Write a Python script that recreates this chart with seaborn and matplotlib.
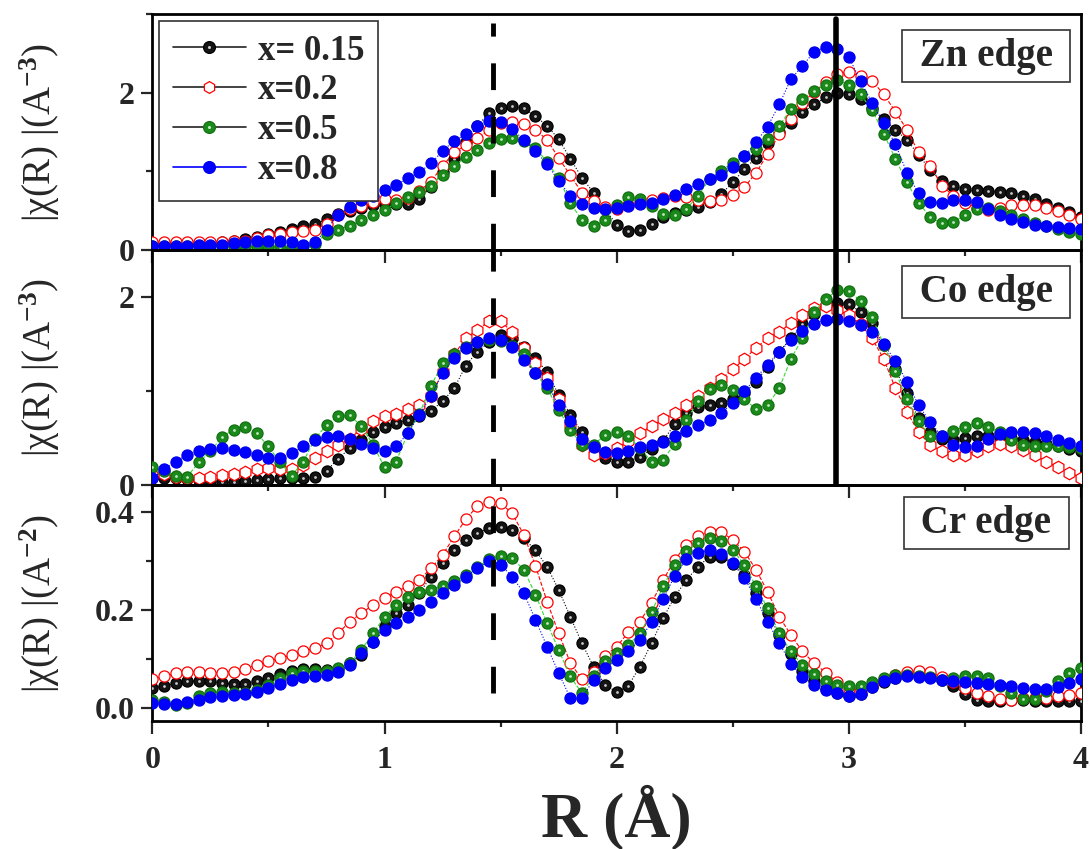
import numpy as np
import matplotlib
matplotlib.use("Agg")
import matplotlib.pyplot as plt
import seaborn as sns
from matplotlib.lines import Line2D
from matplotlib.ticker import MultipleLocator, FormatStrFormatter
from matplotlib.legend_handler import HandlerTuple

# R grid (Angstrom), 0.05 step
r_grid = np.round(np.arange(0, 81) * 0.05, 2)

labels = ["x= 0.15", "x=0.2", "x=0.5", "x=0.8"]

# ---------------- Zn edge ----------------
zn_x015 = [0.08,0.08,0.08,0.08,0.09,0.09,0.10,0.12,0.14,0.17,
           0.20,0.23,0.27,0.30,0.33,0.39,0.46,0.50,0.54,0.57,
           0.59,0.59,0.59,0.65,0.80,0.99,1.16,1.37,1.58,1.74,
           1.81,1.83,1.80,1.70,1.58,1.41,1.16,0.92,0.73,0.52,
           0.32,0.24,0.26,0.33,0.42,0.47,0.51,0.55,0.61,0.71,
           0.86,1.03,1.17,1.36,1.50,1.62,1.75,1.85,1.94,1.99,
           1.98,1.92,1.80,1.67,1.53,1.40,1.21,1.02,0.88,0.81,
           0.78,0.76,0.75,0.74,0.73,0.69,0.65,0.59,0.53,0.48,0.42]
zn_x02 = [0.10,0.10,0.10,0.10,0.10,0.10,0.10,0.11,0.12,0.15,
          0.19,0.21,0.23,0.24,0.25,0.33,0.44,0.52,0.56,0.61,
          0.65,0.63,0.66,0.75,0.87,1.07,1.24,1.33,1.43,1.52,
          1.62,1.63,1.60,1.53,1.40,1.17,0.95,0.73,0.62,0.55,
          0.52,0.57,0.61,0.63,0.66,0.69,0.67,0.64,0.62,0.64,
          0.70,0.80,0.98,1.22,1.47,1.66,1.87,2.01,2.13,2.24,
          2.26,2.21,2.15,1.98,1.76,1.53,1.24,1.07,0.82,0.69,
          0.60,0.54,0.51,0.54,0.57,0.57,0.57,0.53,0.50,0.45,0.40]
zn_x05 = [0.05,0.05,0.05,0.05,0.05,0.05,0.05,0.05,0.05,0.05,
          0.05,0.04,0.04,0.05,0.08,0.21,0.26,0.31,0.38,0.44,
          0.51,0.60,0.67,0.74,0.82,0.96,1.07,1.18,1.27,1.36,
          1.41,1.43,1.39,1.30,1.12,0.91,0.60,0.38,0.31,0.38,
          0.57,0.67,0.65,0.56,0.46,0.44,0.52,0.69,0.90,1.01,
          1.11,1.20,1.28,1.41,1.58,1.79,1.92,2.02,2.10,2.16,
          2.10,1.98,1.78,1.48,1.16,0.86,0.60,0.42,0.34,0.36,
          0.44,0.52,0.53,0.50,0.44,0.39,0.34,0.30,0.27,0.23,0.20]
zn_x08 = [0.05,0.05,0.05,0.05,0.06,0.06,0.07,0.09,0.10,0.11,
          0.12,0.11,0.10,0.07,0.10,0.26,0.45,0.55,0.63,0.69,
          0.76,0.83,0.91,0.99,1.10,1.26,1.39,1.47,1.58,1.64,
          1.63,1.54,1.40,1.26,1.09,0.88,0.69,0.58,0.53,0.52,
          0.53,0.56,0.58,0.60,0.65,0.70,0.78,0.84,0.90,0.96,
          1.05,1.19,1.37,1.57,1.85,2.17,2.34,2.52,2.58,2.56,
          2.45,2.15,1.87,1.61,1.35,0.98,0.72,0.61,0.60,0.63,
          0.64,0.61,0.52,0.45,0.40,0.35,0.32,0.30,0.29,0.28,0.27]

# ---------------- Co edge ----------------
co_x015 = [0.07,0.07,0.07,0.06,0.05,0.04,0.03,0.03,0.04,0.05,
           0.06,0.07,0.07,0.07,0.09,0.15,0.28,0.39,0.48,0.56,
           0.62,0.66,0.69,0.73,0.79,0.89,1.03,1.27,1.42,1.52,
           1.60,1.56,1.47,1.35,1.20,0.96,0.75,0.56,0.41,0.29,
           0.25,0.25,0.30,0.38,0.47,0.65,0.77,0.83,0.85,0.87,
           0.91,0.98,1.10,1.26,1.42,1.56,1.71,1.82,1.91,1.94,
           1.93,1.84,1.72,1.49,1.23,0.98,0.71,0.56,0.49,0.48,
           0.50,0.52,0.52,0.51,0.50,0.48,0.46,0.44,0.41,0.38,0.36]
co_x02 = [0.11,0.12,0.09,0.07,0.07,0.09,0.11,0.12,0.14,0.17,
          0.18,0.17,0.17,0.21,0.29,0.36,0.43,0.49,0.60,0.68,
          0.73,0.76,0.81,0.85,0.95,1.20,1.39,1.56,1.65,1.74,
          1.74,1.63,1.46,1.30,1.14,0.92,0.64,0.43,0.32,0.34,
          0.39,0.47,0.55,0.63,0.70,0.77,0.85,0.95,1.03,1.13,
          1.23,1.34,1.46,1.56,1.63,1.72,1.81,1.88,1.90,1.86,
          1.81,1.71,1.56,1.34,1.03,0.78,0.56,0.43,0.36,0.32,
          0.32,0.36,0.42,0.44,0.42,0.37,0.32,0.25,0.19,0.13,0.08]
co_x05 = [0.19,0.15,0.10,0.09,0.24,0.36,0.51,0.59,0.62,0.55,
          0.41,0.24,0.10,0.25,0.49,0.64,0.73,0.74,0.63,0.43,
          0.19,0.25,0.55,0.76,1.05,1.30,1.39,1.47,1.52,1.54,
          1.53,1.48,1.39,1.19,1.03,0.80,0.59,0.43,0.43,0.53,
          0.56,0.52,0.39,0.25,0.27,0.44,0.69,0.89,1.02,1.06,
          1.01,0.91,0.81,0.85,1.03,1.34,1.56,1.84,1.98,2.07,
          2.06,1.96,1.79,1.49,1.21,0.91,0.68,0.52,0.52,0.58,
          0.62,0.66,0.62,0.56,0.48,0.43,0.41,0.41,0.41,0.40,0.39]
co_x08 = [0.07,0.17,0.25,0.32,0.36,0.38,0.39,0.37,0.35,0.32,
          0.29,0.29,0.34,0.41,0.48,0.51,0.52,0.49,0.44,0.39,
          0.36,0.41,0.55,0.75,0.95,1.19,1.35,1.46,1.52,1.56,
          1.54,1.47,1.33,1.19,1.07,0.85,0.68,0.49,0.40,0.35,
          0.34,0.36,0.40,0.43,0.46,0.52,0.58,0.64,0.69,0.77,
          0.87,1.00,1.14,1.28,1.42,1.54,1.64,1.71,1.76,1.77,
          1.74,1.70,1.63,1.50,1.32,1.10,0.85,0.67,0.52,0.43,
          0.40,0.42,0.49,0.54,0.56,0.56,0.55,0.52,0.48,0.45,0.42]

# ---------------- Cr edge ----------------
cr_x015 = [0.040,0.045,0.050,0.054,0.055,0.054,0.050,0.049,0.049,0.054,
           0.060,0.069,0.076,0.080,0.080,0.078,0.079,0.091,0.108,0.135,
           0.166,0.193,0.210,0.234,0.268,0.295,0.322,0.343,0.356,0.367,
           0.370,0.363,0.346,0.322,0.288,0.241,0.186,0.132,0.084,0.047,
           0.032,0.045,0.084,0.132,0.183,0.227,0.261,0.288,0.309,0.307,
           0.294,0.271,0.234,0.193,0.149,0.110,0.076,0.054,0.039,0.030,
           0.023,0.028,0.043,0.053,0.061,0.066,0.066,0.063,0.057,0.045,
           0.028,0.016,0.013,0.014,0.016,0.016,0.014,0.013,0.013,0.013,0.013]
cr_x02 = [0.059,0.064,0.070,0.073,0.074,0.072,0.072,0.074,0.080,0.088,
          0.095,0.101,0.108,0.115,0.122,0.132,0.152,0.176,0.193,0.210,
          0.224,0.237,0.248,0.261,0.285,0.312,0.350,0.385,0.412,0.421,
          0.418,0.397,0.353,0.290,0.217,0.152,0.092,0.058,0.074,0.106,
          0.125,0.154,0.176,0.214,0.261,0.302,0.333,0.350,0.360,0.359,
          0.343,0.319,0.282,0.237,0.186,0.149,0.115,0.091,0.072,0.052,
          0.038,0.037,0.046,0.058,0.066,0.073,0.075,0.073,0.063,0.052,
          0.040,0.030,0.023,0.018,0.016,0.019,0.020,0.020,0.023,0.027,0.030]
cr_x05 = [0.016,0.011,0.005,0.010,0.023,0.031,0.033,0.030,0.031,0.037,
          0.047,0.061,0.071,0.076,0.076,0.076,0.081,0.091,0.118,0.152,
          0.186,0.210,0.227,0.237,0.241,0.248,0.258,0.272,0.288,0.303,
          0.310,0.305,0.282,0.231,0.173,0.118,0.064,0.030,0.064,0.095,
          0.112,0.128,0.152,0.195,0.248,0.292,0.320,0.336,0.346,0.341,
          0.322,0.292,0.248,0.203,0.153,0.115,0.087,0.068,0.054,0.047,
          0.044,0.045,0.053,0.061,0.067,0.067,0.065,0.062,0.057,0.060,
          0.065,0.065,0.060,0.045,0.030,0.017,0.018,0.035,0.055,0.072,0.082]
cr_x08 = [0.010,0.008,0.007,0.011,0.016,0.022,0.025,0.027,0.028,0.033,
          0.040,0.049,0.057,0.063,0.064,0.067,0.074,0.088,0.112,0.135,
          0.159,0.173,0.186,0.200,0.217,0.234,0.251,0.268,0.285,0.299,
          0.292,0.268,0.234,0.180,0.125,0.071,0.020,0.020,0.057,0.081,
          0.098,0.115,0.139,0.175,0.222,0.270,0.303,0.316,0.322,0.314,
          0.295,0.265,0.222,0.176,0.132,0.090,0.063,0.047,0.037,0.030,
          0.025,0.028,0.042,0.054,0.061,0.064,0.063,0.060,0.057,0.055,
          0.052,0.050,0.048,0.046,0.044,0.040,0.038,0.038,0.043,0.050,0.058]

panel_names = ["Zn edge", "Co edge", "Cr edge"]
panel_data = [[zn_x015, zn_x02, zn_x05, zn_x08],
              [co_x015, co_x02, co_x05, co_x08],
              [cr_x015, cr_x02, cr_x05, cr_x08]]

styles = [
    dict(line="black", ls=":", mfc="#141414", mec="#000000", hl="#c8c8c8"),
    dict(line="#ff0000", ls="--", mfc="white", mec="#ff0000", hl=None),
    dict(line="#33dd33", ls="--", mfc="#1a8a1a", mec="#137013", hl="#c6e8c6"),
    dict(line="#0000ff", ls=":", mfc="#0000ff", mec="#0000f0", hl=None),
]

sns.set_style("ticks")
plt.rcParams["font.family"] = ["Liberation Serif", "DejaVu Serif"]
plt.rcParams["font.weight"] = "bold"
plt.rcParams["mathtext.fontset"] = "custom"
plt.rcParams["mathtext.rm"] = "Liberation Serif"
plt.rcParams["mathtext.it"] = "Liberation Serif:italic"
plt.rcParams["mathtext.bf"] = "Liberation Serif:bold"

fig = plt.figure(figsize=(10.9, 8.49), dpi=100)
fig.patch.set_facecolor("white")
L, W = 0.1398, 0.852
axes = [fig.add_axes([L, 0.7055, W, 0.2780]),
        fig.add_axes([L, 0.4287, W, 0.2768]),
        fig.add_axes([L, 0.1508, W, 0.2779])]

ylims = [(0, 3.0), (0, 2.5), (-0.027, 0.455)]
ymaj = [2, 2, 0.2]
ymin = [1, 1, 0.1]
ylabels = [r"|χ(R) |(A$^{-3}$)", r"|χ(R) |(A$^{-3}$)", r"|χ(R) |(A$^{-2}$)"]
box_y = [0.822, 0.821, 0.839]

for p, ax in enumerate(axes):
    ax.set_facecolor("none")
    for i, (vals, st) in enumerate(zip(panel_data[p], styles)):
        is_hex = (p == 1 and st["mfc"] == "white")
        sns.lineplot(x=r_grid, y=vals, ax=ax, color=st["line"], linestyle=st["ls"],
                     linewidth=0.8, marker="h" if is_hex else "o",
                     markersize=9.0 if is_hex else 8.0,
                     markerfacecolor=st["mfc"], markeredgecolor=st["mec"],
                     markeredgewidth=0.9, estimator=None, errorbar=None,
                     legend=False, sort=False, zorder=3 + 2 * i)
        if st["hl"] is not None:
            sns.scatterplot(x=r_grid, y=vals, ax=ax, s=4, color=st["hl"],
                            linewidth=0, legend=False, zorder=4 + 2 * i)
    ax.set_xlim(0, 4)
    ax.set_ylim(*ylims[p])
    ax.xaxis.set_major_locator(MultipleLocator(1))
    ax.xaxis.set_minor_locator(MultipleLocator(0.5))
    ax.yaxis.set_major_locator(MultipleLocator(ymaj[p]))
    ax.yaxis.set_minor_locator(MultipleLocator(ymin[p]))
    if p == 2:
        ax.yaxis.set_major_formatter(FormatStrFormatter("%.1f"))
    ax.tick_params(axis="x", which="both", bottom=True, top=False, direction="out",
                   labelbottom=(p == 2), labelsize=23, pad=9)
    ax.tick_params(axis="x", which="major", length=9, width=1.6)
    ax.tick_params(axis="x", which="minor", length=4.5, width=1.6)
    ax.tick_params(axis="y", which="both", left=True, right=False, direction="out",
                   labelsize=23, pad=5)
    ax.tick_params(axis="y", which="major", length=8, width=1.6)
    ax.tick_params(axis="y", which="minor", length=4.5, width=1.6)
    for s in ax.spines.values():
        s.set_linewidth(2.0)
        s.set_color("black")
        s.set_visible(True)
    ax.set_ylabel(ylabels[p], fontsize=28, fontweight="normal")
    ax.yaxis.set_label_coords(-0.097, 0.5)
    ax.text(0.898, box_y[p], " " + panel_names[p] + " ", transform=ax.transAxes,
            ha="center", va="center", fontsize=28, fontweight="bold", zorder=30,
            bbox=dict(boxstyle="square,pad=0.2", fc="white", ec="#333333", lw=1.2))

# reference lines
axes[0].axvline(1.465, ymin=0, ymax=0.96, color="black", lw=3.5, ls=(0, (5.5, 5.5)), zorder=20)
axes[1].axvline(1.465, color="black", lw=3.5, ls=(0, (5.5, 5.5)), zorder=20)
axes[2].axvline(1.465, ymin=0.12, ymax=1, color="black", lw=3.5, ls=(0, (5.5, 5.5)), zorder=20)
axes[0].axvline(2.944, ymin=0, ymax=0.98, color="black", lw=4, zorder=20)
axes[1].axvline(2.944, color="black", lw=4, zorder=20)

axes[2].set_xlabel("R (Å)", fontsize=46, fontweight="bold")
axes[2].xaxis.set_label_coords(0.5, -0.27)

# legend
handles = []
for st in styles:
    lc = "#0000ff" if st["line"] == "#0000ff" else "#222222"
    mk = "h" if st["mfc"] == "white" else "o"
    main = Line2D([], [], color=lc, lw=1.2, marker=mk, markersize=8.5,
                  markerfacecolor=st["mfc"], markeredgecolor=st["mec"], markeredgewidth=0.9)
    if st["hl"] is not None:
        hl = Line2D([], [], ls="none", marker="o", markersize=2.2,
                    markerfacecolor=st["hl"], markeredgecolor="none")
        handles.append((main, hl))
    else:
        handles.append((main,))
leg = axes[0].legend(handles, labels, handler_map={tuple: HandlerTuple(ndivide=1)},
                     loc="upper left", bbox_to_anchor=(0.007, 0.972), borderaxespad=0,
                     prop={"family": "Liberation Serif", "weight": "bold", "size": 25},
                     frameon=True, fancybox=False, framealpha=1, edgecolor="#333333",
                     handlelength=2.1, handletextpad=0.35, borderpad=0.4, labelspacing=0.2)
leg.get_frame().set_linewidth(1.2)
leg.set_zorder(40)

fig.savefig("out.png", dpi=100)
